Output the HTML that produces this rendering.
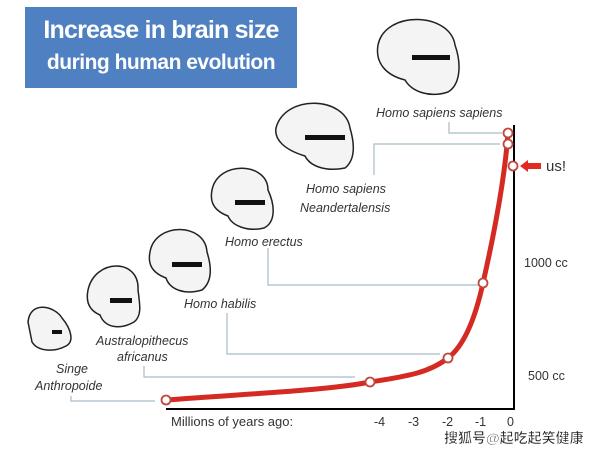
<!DOCTYPE html>
<html><head><style>
body{margin:0;background:#fff;}
.w{position:relative;width:600px;height:452px;overflow:hidden;font-family:"Liberation Sans",sans-serif;}
.t{position:absolute;left:25px;top:7px;width:272px;height:81px;background:#4f81c2;color:#fff;font-weight:bold;text-align:center;}
</style></head><body><div class="w">
<div class="t"><div style="font-size:25px;margin-top:9px;letter-spacing:-0.8px">Increase in brain size</div><div style="font-size:21px;margin-top:6px;letter-spacing:-0.5px">during human evolution</div></div>
<svg width="600" height="452" style="position:absolute;left:0;top:0" font-family="Liberation Sans, sans-serif">
<g fill="none" stroke="#a9bcc6" stroke-width="1.2">
<polyline points="71,396 71,401 155,401"/>
<polyline points="144,366 144,377 355,377"/>
<polyline points="227,313 227,354 440,354"/>
<polyline points="268,248 268,285 478,285"/>
<polyline points="374,175 374,144 500,144"/>
<polyline points="449,122 449,133 502,133"/>
</g>
<line x1="166" y1="409" x2="514" y2="409" stroke="#000" stroke-width="2"/>
<line x1="514" y1="125" x2="514" y2="410" stroke="#000" stroke-width="2"/>
<path d="M166,400 C260,393 330,390 370,382 C410,376 430,372 448,358 C465,345 476,315 483,283 C495,230 505,175 508,133" fill="none" stroke="#d42a22" stroke-width="5"/>
<g fill="#fff" stroke="#c0473f" stroke-width="1.8">
<circle cx="166" cy="400" r="4.5"/><circle cx="370" cy="382" r="4.5"/><circle cx="448" cy="358" r="4.5"/><circle cx="483" cy="283" r="4.5"/><circle cx="508" cy="144" r="4.5"/><circle cx="508" cy="133" r="4.5"/><circle cx="513" cy="166" r="4.5"/>
</g>
<path d="M520,166 L528,160 L528,163 L541,163 L541,169 L528,169 L528,172 Z" fill="#e02a22"/>
<g font-size="14" fill="#333">
<text x="546" y="171" font-size="15">us!</text>
<text x="524" y="267" font-size="12.5">1000 cc</text>
<text x="528" y="380" font-size="12.5">500 cc</text>
<text x="171" y="426" font-size="13">Millions of years ago:</text>
<text x="374" y="426" font-size="12.5">-4</text><text x="408" y="426" font-size="12.5">-3</text><text x="442" y="426" font-size="12.5">-2</text><text x="475" y="426" font-size="12.5">-1</text><text x="507" y="426" font-size="12.5">0</text>
</g>
<g font-size="12.5" font-style="italic" fill="#333">
<text x="376" y="117">Homo sapiens sapiens</text>
<text x="306" y="193">Homo sapiens</text><text x="300" y="212">Neandertalensis</text>
<text x="225" y="246">Homo erectus</text>
<text x="184" y="308">Homo habilis</text>
<text x="96" y="345">Australopithecus</text><text x="117" y="361">africanus</text>
<text x="56" y="373">Singe</text><text x="35" y="390">Anthropoide</text>
</g>
<g fill="#f4f4f4" stroke="#222" stroke-width="1.5">
<path d="M28,322 C30,300 55,306 62,318 C72,330 74,342 66,346 C55,352 38,352 32,342 Z"/>
<path d="M88,290 C95,258 140,258 138,290 C140,305 142,316 134,322 C120,330 105,328 100,315 C88,310 86,300 88,290 Z"/>
<path d="M150,252 C155,222 205,222 207,252 C212,268 212,282 202,290 C185,295 170,290 166,278 C150,272 148,262 150,252 Z"/>
<path d="M212,190 C218,160 268,162 268,190 C275,205 276,222 264,228 C248,232 232,226 228,216 C212,210 210,200 212,190 Z"/>
<path d="M276,128 C285,94 345,96 350,128 C355,145 355,160 345,168 C325,172 310,166 305,156 C285,150 274,140 276,128 Z"/>
<path d="M378,45 C385,10 450,12 455,45 C462,65 460,85 448,92 C430,98 412,92 405,80 C385,75 375,62 378,45 Z"/>
</g>
<g fill="#111">
<rect x="52" y="330" width="10" height="4"/><rect x="110" y="298" width="22" height="5"/><rect x="172" y="262" width="30" height="5"/><rect x="235" y="200" width="30" height="5"/><rect x="305" y="135" width="40" height="5"/><rect x="412" y="55" width="38" height="5"/>
</g>
<text x="444" y="443" font-size="14" font-weight="bold" fill="#222" stroke="#fff" stroke-width="0.6" font-family="Liberation Sans, Noto Sans CJK SC, sans-serif">搜狐号@起吃起笑健康</text>
</svg>
</div></body></html>
